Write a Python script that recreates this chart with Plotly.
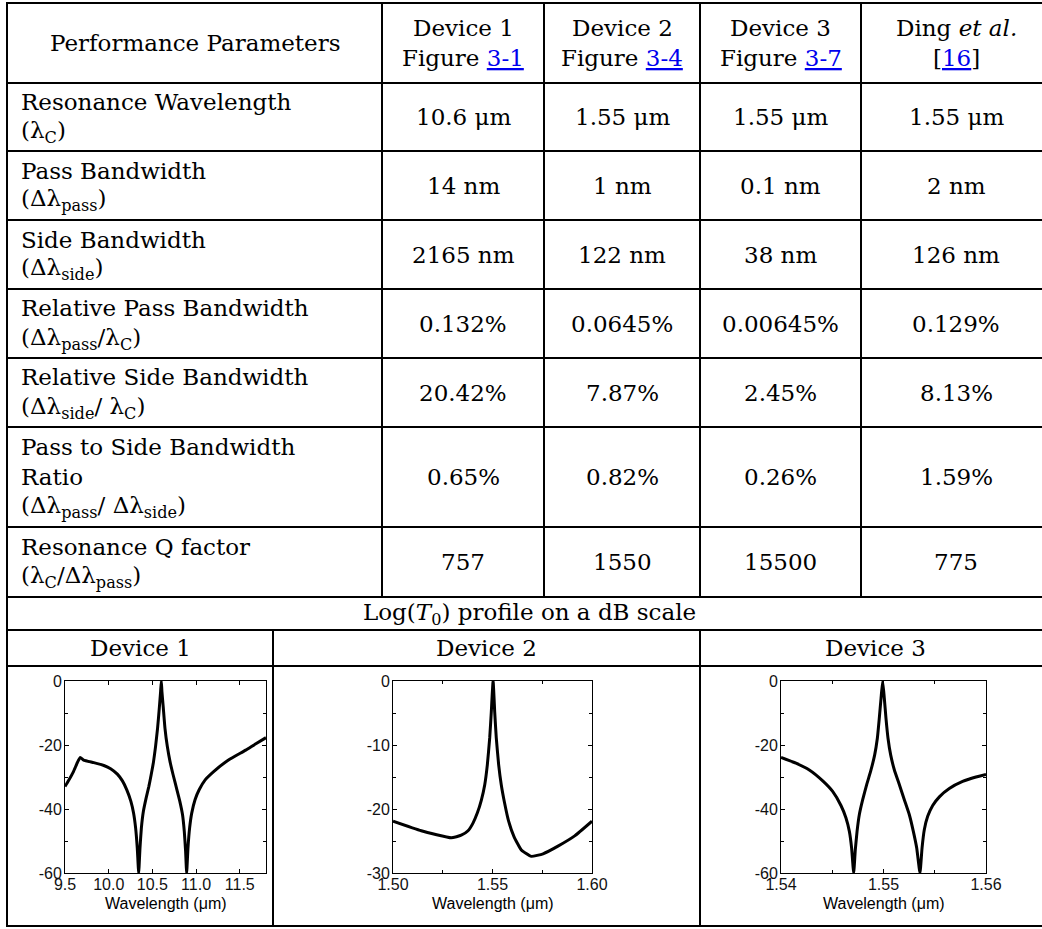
import plotly.graph_objects as go

W, H = 1042, 929

# ---------------- table data ----------------
param_header = "Performance Parameters"
col_headers = [
    ["Device 1", "Figure {3-1}"],
    ["Device 2", "Figure {3-4}"],
    ["Device 3", "Figure {3-7}"],
    ["Ding <i>et al.</i>", "[{16}]"],
]
param_lines = [
    ["Resonance Wavelength", "(λ<sub>C</sub>)"],
    ["Pass Bandwidth", "(Δλ<sub>pass</sub>)"],
    ["Side Bandwidth", "(Δλ<sub>side</sub>)"],
    ["Relative Pass Bandwidth", "(Δλ<sub>pass</sub>/λ<sub>C</sub>)"],
    ["Relative Side Bandwidth", "(Δλ<sub>side</sub>/ λ<sub>C</sub>)"],
    ["Pass to Side Bandwidth", "Ratio", "(Δλ<sub>pass</sub>/ Δλ<sub>side</sub>)"],
    ["Resonance Q factor", "(λ<sub>C</sub>/Δλ<sub>pass</sub>)"],
]
device1_vals = ["10.6 μm", "14 nm", "2165 nm", "0.132%", "20.42%", "0.65%", "757"]
device2_vals = ["1.55 μm", "1 nm", "122 nm", "0.0645%", "7.87%", "0.82%", "1550"]
device3_vals = ["1.55 μm", "0.1 nm", "38 nm", "0.00645%", "2.45%", "0.26%", "15500"]
ding_vals = ["1.55 μm", "2 nm", "126 nm", "0.129%", "8.13%", "1.59%", "775"]
profile_title = "Log(<i>T</i><sub>0</sub>) profile on a dB scale"
plot_headers = ["Device 1", "Device 2", "Device 3"]

# ---------------- curve data ----------------
dev1_wl = [9.500, 9.539, 9.597, 9.643, 9.674, 9.713, 9.829, 9.945, 10.022, 10.099, 10.157,
           10.207, 10.254, 10.285, 10.308, 10.327, 10.343,
           10.358, 10.374, 10.397, 10.428, 10.459, 10.486, 10.513, 10.536, 10.559, 10.579,
           10.594, 10.602,
           10.609, 10.625, 10.644, 10.671, 10.702, 10.737, 10.776, 10.814, 10.845, 10.865,
           10.880, 10.892,
           10.907, 10.926, 10.950, 10.988, 11.035, 11.104, 11.201, 11.375, 11.568, 11.684,
           11.800]
dev1_db = [-33.0, -31.2, -28.3, -25.4, -23.9, -24.7, -25.5, -26.4, -27.4, -29.1, -31.2,
           -34.0, -37.6, -41.3, -45.9, -52.2, -60.0,
           -52.2, -45.9, -40.7, -36.6, -33.0, -29.3, -25.2, -20.5, -14.8, -8.5,
           -3.3, 0.0,
           -3.3, -8.5, -14.8, -20.5, -25.2, -29.3, -33.5, -37.6, -41.8, -47.0,
           -53.2, -60.0,
           -52.2, -45.9, -41.3, -37.1, -34.0, -30.9, -28.3, -24.6, -21.6, -19.6,
           -17.7]

dev2_wl = [1.5000, 1.5142, 1.5293, 1.5343, 1.5377, 1.5402, 1.5424, 1.5444, 1.5461, 1.5474,
           1.5486, 1.5494, 1.5503, 1.5511, 1.5519, 1.5531, 1.5544, 1.5561, 1.5581, 1.5608,
           1.5645, 1.5695, 1.5754, 1.5829, 1.5913, 1.6000]
dev2_db = [-21.9, -23.4, -24.5, -24.1, -23.4, -22.2, -20.6, -18.6, -16.2, -13.1,
           -8.9, -4.8, 0.0, -4.8, -8.9, -13.1, -16.2, -19.1, -21.9, -24.3,
           -26.4, -27.4, -27.0, -25.8, -24.2, -21.9]

dev3_wl = [1.54000, 1.54146, 1.54276, 1.54407, 1.54504, 1.54585, 1.54634, 1.54667, 1.54689,
           1.54709,
           1.54725, 1.54742, 1.54764, 1.54797, 1.54836, 1.54878, 1.54914, 1.54940, 1.54959,
           1.54976, 1.54992,
           1.55008, 1.55024, 1.55044, 1.55070, 1.55106, 1.55155, 1.55203, 1.55252, 1.55291,
           1.55324, 1.55356,
           1.55376, 1.55398, 1.55431, 1.55480, 1.55545, 1.55642, 1.55772, 1.55902, 1.56000]
dev3_db = [-23.9, -25.7, -27.8, -31.2, -34.5, -38.9, -42.8, -47.0, -52.2,
           -60.0,
           -52.7, -47.0, -41.8, -37.1, -32.4, -27.8, -23.1, -17.9, -11.6,
           -5.4, 0.0,
           -5.4, -11.6, -17.9, -23.1, -27.8, -32.4, -37.1, -41.8, -47.0,
           -52.2, -60.0,
           -52.2, -46.5, -42.3, -38.9, -36.2, -33.6, -31.4, -30.0, -29.2]

# tick labels
dev1_xticks = [9.5, 10.0, 10.5, 11.0, 11.5]
dev1_xtext = ["9.5", "10.0", "10.5", "11.0", "11.5"]
dev1_yticks = [0, -20, -40, -60]
dev1_ytext = ["0", "-20", "-40", "-60"]
dev2_xticks = [1.50, 1.55, 1.60]
dev2_xtext = ["1.50", "1.55", "1.60"]
dev2_yticks = [0, -10, -20, -30]
dev2_ytext = ["0", "-10", "-20", "-30"]
dev3_xticks = [1.54, 1.55, 1.56]
dev3_xtext = ["1.54", "1.55", "1.56"]
dev3_yticks = [0, -20, -40, -60]
dev3_ytext = ["0", "-20", "-40", "-60"]
x_title = "Wavelength (μm)"

# ---------------- layout geometry (pixels) ----------------
SERIF = "DejaVu Serif"
SANS = "Liberation Sans"
FS = 23
LINK = "#0000ee"

col_x = [7, 382, 544, 700, 861, 1051]
row_y = [3, 83, 151, 220, 289, 358, 427, 527, 597]
log_row = (597, 630)
dev_row = (630, 666)
bottom_y = 926
bottom_cols = [7, 273, 700, 1051]
plot_boxes = [  # (x0, x1, y_top, y_bottom) in px
    (65, 266, 681, 873),
    (393, 592, 681, 873),
    (781, 986, 681, 873),
]


def px(x):
    return x / W


def py(y):
    return 1 - y / H


def linkify(s):
    return s.replace("{", f"<span style='color:{LINK}'><u>").replace("}", "</u></span>")


fig = go.Figure()

shapes = []
line_style = dict(color="black", width=2)


def hline(y, x0=col_x[0] - 1, x1=W):
    shapes.append(dict(type="line", xref="paper", yref="paper", x0=px(x0), x1=px(x1),
                       y0=py(y), y1=py(y), line=line_style))


def vline(x, y0, y1):
    shapes.append(dict(type="line", xref="paper", yref="paper", x0=px(x), x1=px(x),
                       y0=py(y0 - 1), y1=py(y1 + 1), line=line_style))


for y in row_y + [log_row[1], dev_row[1], bottom_y]:
    hline(y)
vline(col_x[0], row_y[0], bottom_y)
for x in col_x[1:-1]:
    vline(x, row_y[0], row_y[-1])
for x in bottom_cols[1:-1]:
    vline(x, dev_row[0], bottom_y)

annotations = []


def text(x, y, s, align="center", size=FS, family=SERIF, xanchor=None):
    annotations.append(dict(xref="paper", yref="paper", x=px(x), y=py(y), text=s,
                            showarrow=False, xanchor=xanchor or align, yanchor="middle",
                            align=align, font=dict(family=family, size=size, color="black")))


# header row
hc = (row_y[0] + row_y[1]) / 2
text((col_x[0] + col_x[1]) / 2, hc, param_header)
for i, lines in enumerate(col_headers):
    cx = (col_x[i + 1] + col_x[i + 2]) / 2
    text(cx, hc - 15, linkify(lines[0]))
    text(cx, hc + 15, linkify(lines[1]))

# body rows
LS = 30
all_vals = [device1_vals, device2_vals, device3_vals, ding_vals]
for r, lines in enumerate(param_lines):
    y0, y1 = row_y[r + 1], row_y[r + 2]
    cy = (y0 + y1) / 2
    n = len(lines)
    for k, s in enumerate(lines):
        text(19, cy + (k - (n - 1) / 2) * LS, s, align="left")
    for c, vals in enumerate(all_vals):
        cx = (col_x[c + 1] + col_x[c + 2]) / 2
        text(cx, cy, vals[r])

text((col_x[0] + bottom_cols[-1]) / 2, sum(log_row) / 2, profile_title)
for i, s in enumerate(plot_headers):
    text((bottom_cols[i] + bottom_cols[i + 1]) / 2, sum(dev_row) / 2, s)

# plots
curves = [(dev1_wl, dev1_db), (dev2_wl, dev2_db), (dev3_wl, dev3_db)]
xranges = [[9.5, 11.8], [1.50, 1.60], [1.54, 1.56]]
yranges = [[-60, 0], [-30, 0], [-60, 0]]
xt = [(dev1_xticks, dev1_xtext), (dev2_xticks, dev2_xtext), (dev3_xticks, dev3_xtext)]
yt = [(dev1_yticks, dev1_ytext), (dev2_yticks, dev2_ytext), (dev3_yticks, dev3_ytext)]
xminor = [[], [1.525, 1.575], [1.545, 1.555]]
yminor = [[-10, -30, -50], [-5, -15, -25], [-10, -30, -50]]

tickfont = dict(family=SANS, size=16, color="#111")
for i, ((xs, ys), box) in enumerate(zip(curves, plot_boxes)):
    sfx = "" if i == 0 else str(i + 1)
    fig.add_trace(go.Scatter(x=xs, y=ys, mode="lines",
                             line=dict(color="black", width=3, shape="spline", smoothing=0.4),
                             xaxis="x" + sfx, yaxis="y" + sfx, showlegend=False,
                             hoverinfo="skip"))
    x0, x1, yt0, yb = box
    common = dict(showline=True, linecolor="black", linewidth=1, mirror="allticks",
                  ticks="inside", ticklen=4, tickwidth=1, tickcolor="black",
                  showgrid=False, zeroline=False, tickfont=tickfont, tickmode="array",
                  fixedrange=True, automargin=False)
    fig.update_layout(**{
        "xaxis" + sfx: dict(domain=[px(x0), px(x1)], anchor="y" + sfx, range=xranges[i],
                            tickvals=xt[i][0], ticktext=xt[i][1], ticklabelstandoff=-3,
                            minor=dict(tickvals=xminor[i], ticks="inside", ticklen=3,
                                       tickcolor="black"), **common),
        "yaxis" + sfx: dict(domain=[py(yb), py(yt0)], anchor="x" + sfx, range=yranges[i],
                            tickvals=yt[i][0], ticktext=yt[i][1], ticklabelstandoff=-1,
                            minor=dict(tickvals=yminor[i], ticks="inside", ticklen=3,
                                       tickcolor="black"), **common),
    })
    text((x0 + x1) / 2, 903, x_title, family=SANS, size=16)

fig.update_layout(width=W, height=H,
                  margin=dict(l=0, r=0, t=0, b=0, pad=0, autoexpand=False),
                  paper_bgcolor="white", plot_bgcolor="white",
                  shapes=shapes, annotations=annotations, showlegend=False)

fig.write_html("out.html", config={"displayModeBar": False, "staticPlot": True},
               post_script="document.body.style.margin='0px';"
                           "document.body.style.overflow='hidden';")
